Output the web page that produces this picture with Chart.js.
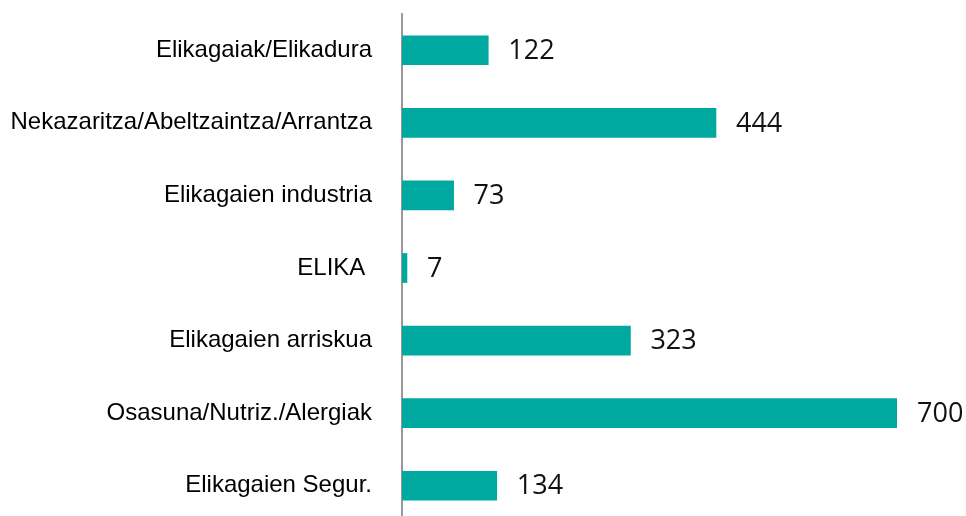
<!DOCTYPE html>
<html>
<head>
<meta charset="utf-8">
<script src="https://cdn.jsdelivr.net/npm/chart.js@4/dist/chart.umd.min.js"></script>
<style>
html,body{margin:0;padding:0;overflow:hidden;background:#fff;}
#wrap{position:relative;width:966px;height:522px;}
</style>
</head>
<body>
<div id="wrap"><canvas id="c"></canvas></div>
<script>
const categories = [
  "Elikagaiak/Elikadura",
  "Nekazaritza/Abeltzaintza/Arrantza",
  "Elikagaien industria",
  "ELIKA ",
  "Elikagaien arriskua",
  "Osasuna/Nutriz./Alergiak",
  "Elikagaien Segur."
];
const values = [122, 444, 73, 7, 323, 700, 134];

const valueLabels = {
  id: 'valueLabels',
  afterDatasetsDraw(chart) {
    const ctx = chart.ctx;
    const meta = chart.getDatasetMeta(0);
    ctx.save();
    ctx.font = '27px "Open Sans"';
    ctx.fillStyle = '#111111';
    ctx.textAlign = 'left';
    ctx.textBaseline = 'middle';
    meta.data.forEach((bar, i) => {
      ctx.fillText(String(values[i]), bar.x + 20, bar.y + 1);
    });
    ctx.restore();
  }
};

new Chart(document.getElementById('c'), {
  type: 'bar',
  data: {
    labels: categories,
    datasets: [{
      data: values,
      backgroundColor: '#00A99F',
      borderWidth: 0,
      barThickness: 29
    }]
  },
  options: {
    indexAxis: 'y',
    responsive: true,
    maintainAspectRatio: false,
    animation: false,
    layout: { padding: { top: 14, right: 69, bottom: 0, left: 0 } },
    plugins: { legend: { display: false }, tooltip: { enabled: false } },
    scales: {
      x: { display: false, min: 0, max: 700 },
      y: {
        afterFit(scale) { scale.width = 402; scale.paddingTop = 0; scale.paddingBottom = 0; },
        grid: { display: false, drawTicks: false },
        border: { display: true, color: '#999999', width: 2 },
        ticks: {
          padding: 30,
          color: '#000000',
          font: { family: '"Liberation Sans", Arial, sans-serif', size: 24 }
        }
      }
    }
  },
  plugins: [valueLabels]
});
</script>
</body>
</html>
